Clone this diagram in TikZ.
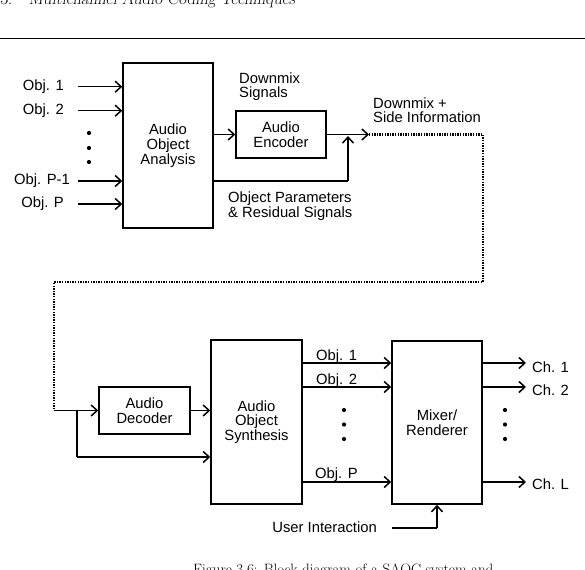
\documentclass[tikz,border=0pt]{standalone}
\usepackage{fontspec}
\usetikzlibrary{arrows.meta}
\newfontfamily\arialf{Liberation Sans}
\begin{document}
\begin{tikzpicture}[x=1pt,y=-1pt,
  every node/.style={font=\arialf\fontsize{14.8}{14.8}\selectfont},
  box/.style={draw, line width=1.5pt, inner sep=0pt, align=center},
  lbl/.style={inner sep=0pt, align=left},
  ar/.style={line width=1.5pt, -{Straight Barb[length=6pt,width=11pt,line width=1.5pt]}},
  ln/.style={line width=1.5pt},
  dotl/.style={line width=2.2pt, dash pattern=on 1.3pt off 1.3pt},
  dotf/.style={fill=black}]
\useasboundingbox (0,0) rectangle (585,569);
\clip (0,0) rectangle (585,569);

% header and rule
\node[anchor=base west, inner sep=0pt, font=\fontsize{16.8}{16.8}\selectfont\slshape] (hdr) at (0,5) {3.\quad Multichannel Audio Coding Techniques};
\draw[line width=1.5pt] (0,38.5) -- (585,38.5);

% boxes
\node[box, minimum width=90, minimum height=165] (ana) at (168,145.5) {Audio\\Object\\Analysis};
\node[box, minimum width=90, minimum height=47] (enc) at (281,134.5) {Audio\\Encoder};
\node[box, minimum width=91, minimum height=47] (dec) at (144.5,410.5) {Audio\\Decoder};
\node[box, minimum width=91, minimum height=164] (syn) at (256.5,422) {Audio\\Object\\Synthesis};
\node[box, minimum width=90, minimum height=163] (mix) at (437,422.5) {Mixer/\\Renderer};

% inputs
\node[lbl, anchor=east] (l1) at (64,86.7) {Obj. 1};
\node[lbl, anchor=east] (l2) at (64,110.7) {Obj. 2};
\node[lbl, anchor=east] (l3) at (70,181) {Obj. P-1};
\node[lbl, anchor=east] (l4) at (64,204) {Obj. P};
\coordinate (i1) at (78,86.7);
\coordinate (i2) at (78,110.7);
\coordinate (i3) at (78,181);
\coordinate (i4) at (78,204);
\foreach \c in {i1,i2,i3,i4} \draw[ar] (\c) -- (\c -| ana.west);
\foreach \yy in {133,148,162} \fill[dotf] (89,\yy) circle (2.1);

% encoder side
\draw[ar] (ana.east |- enc.west) -- (enc.west);
\node[lbl, anchor=base west] (dmx) at (239,98) {Downmix\\Signals};
\coordinate (dm) at (369,134.5);
\draw[ar] (enc.east) -- (dm);
\coordinate (op) at (348,181);
\coordinate (opt) at (348,136);
\draw[ln] (ana.east |- op) -- (op);
\draw[ar] (op) -- (opt);
\node[lbl, anchor=base west] (opl) at (228,217) {Object Parameters\\\& Residual Signals};
\node[lbl, anchor=base west] (dsi) at (373,123) {Downmix +\\Side Information};

% dotted transmission
\coordinate (c1) at (483,134.5);
\coordinate (c2) at (483,282);
\coordinate (c3) at (54,282);
\coordinate (c4) at (54,410.5);
\draw[dotl] (dm) -- (c1) -- (c2) -- (c3) -- (c4);

% decoder side
\draw[ar] (c4) -- (dec.west);
\coordinate (br) at (77,410.5);
\coordinate (brd) at (77,457);
\draw[ln] (br) -- (brd);
\draw[ar] (brd) -- (brd -| syn.west);
\draw[ar] (dec.east) -- (dec.east -| syn.west);

% objects to mixer
\coordinate (s1) at (302,363);
\coordinate (s2) at (302,387);
\coordinate (s3) at (302,482);
\foreach \c in {s1,s2,s3} \draw[ar] (\c) -- (\c -| mix.west);
\node[lbl, anchor=base west] (ob1) at (316,360) {Obj. 1};
\node[lbl, anchor=base west] (ob2) at (316,384) {Obj. 2};
\node[lbl, anchor=base west] (obp) at (315,478) {Obj. P};
\foreach \yy in {410,424.5,439} \fill[dotf] (344,\yy) circle (2.1);

% outputs
\coordinate (e1) at (526,363);
\coordinate (e2) at (526,387);
\coordinate (e3) at (526,482);
\foreach \c in {e1,e2,e3} \draw[ar] (\c -| mix.east) -- (\c);
\node[lbl, anchor=west] (ch1) at (532,367) {Ch. 1};
\node[lbl, anchor=west] (ch2) at (532,390.5) {Ch. 2};
\node[lbl, anchor=west] (chl) at (532,484) {Ch. L};
\foreach \yy in {410,424.5,439} \fill[dotf] (505,\yy) circle (2.1);

% user interaction
\node[lbl, anchor=east] (ui) at (377,527) {User Interaction};
\coordinate (u1) at (392,528);
\coordinate (u2) at (437,528);
\draw[ln] (u1) -- (u2);
\draw[ar] (u2) -- (mix.south);

% caption (cut off)
\node[anchor=base west, inner sep=0pt, font=\fontsize{15}{15}\selectfont] (cap) at (193,574) {Figure 3.6: Block diagram of a SAOC system and};
\end{tikzpicture}
\end{document}
